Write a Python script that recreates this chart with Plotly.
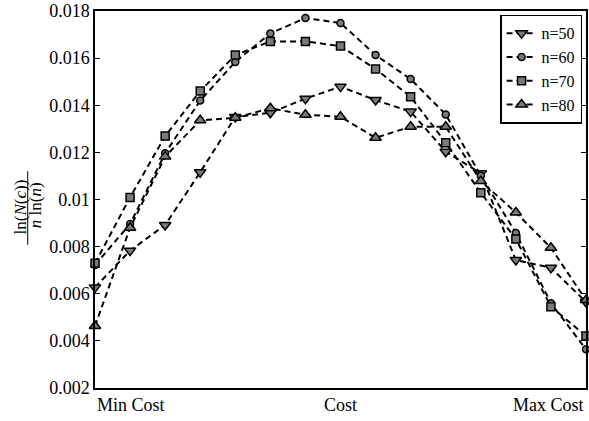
import plotly.graph_objects as go

# Cost steps from minimum to maximum cost
cost_steps = list(range(15))

n50 = [0.00627, 0.00783, 0.00892, 0.01116, 0.01350, 0.01368, 0.01428, 0.01479,
       0.01422, 0.01373, 0.01203, 0.01111, 0.00743, 0.00710, 0.00565]
n60 = [0.00722, 0.00896, 0.01196, 0.01420, 0.01584, 0.01705, 0.01770, 0.01749,
       0.01613, 0.01511, 0.01361, 0.01101, 0.00858, 0.00560, 0.00364]
n70 = [0.00729, 0.01009, 0.01269, 0.01460, 0.01613, 0.01671, 0.01671, 0.01651,
       0.01554, 0.01436, 0.01241, 0.01029, 0.00832, 0.00545, 0.00421]
n80 = [0.00463, 0.00880, 0.01182, 0.01336, 0.01347, 0.01387, 0.01360, 0.01351,
       0.01262, 0.01309, 0.01309, 0.01078, 0.00945, 0.00795, 0.00573]

series_names = ["n=50", "n=60", "n=70", "n=80"]
y_ticks = [0.002, 0.004, 0.006, 0.008, 0.010, 0.012, 0.014, 0.016, 0.018]
y_tick_text = ["0.002", "0.004", "0.006", "0.008", "0.01", "0.012", "0.014", "0.016", "0.018"]
x_labels = ["Min Cost", "Cost", "Max Cost"]

FONT = "Liberation Serif"
symbols = ["triangle-down", "circle", "square", "triangle-up"]
sizes = [10, 7, 8, 10]

fig = go.Figure()
for name, vals, sym, sz in zip(series_names, [n50, n60, n70, n80], symbols, sizes):
    fig.add_trace(go.Scatter(
        x=cost_steps, y=vals, name=name, mode="lines+markers",
        line=dict(color="black", width=2, dash="6px,4px"),
        marker=dict(symbol=sym, size=sz, color="#7a7a7a",
                    line=dict(color="black", width=1.5)),
        cliponaxis=False,
    ))

# Cost axis labels: left-aligned at min, centred in the middle, right-aligned at max
for xv, txt, anchor in [(0, x_labels[0], "left"), (7, x_labels[1], "center"), (14, x_labels[2], "right")]:
    fig.add_annotation(x=xv, y=-0.045, xref="x", yref="paper", text=txt,
                       showarrow=False, xanchor=anchor, yanchor="middle",
                       font=dict(family=FONT, size=18, color="black"))

# Y axis title drawn as a fraction
fig.add_annotation(x=-0.152, y=0.48, xref="paper", yref="paper",
                   text="ln(<i>N</i>(<i>c</i>))", textangle=-90, showarrow=False,
                   xanchor="center", yanchor="middle",
                   font=dict(family=FONT, size=17, color="black"))
fig.add_annotation(x=-0.122, y=0.485, xref="paper", yref="paper",
                   text="<i>n</i> ln(<i>n</i>)", textangle=-90, showarrow=False,
                   xanchor="center", yanchor="middle",
                   font=dict(family=FONT, size=17, color="black"))
fig.add_shape(type="line", xref="paper", yref="paper",
              x0=-0.137, x1=-0.137, y0=0.38, y1=0.575,
              line=dict(color="black", width=1))

fig.update_layout(
    width=589, height=421,
    margin=dict(l=95, r=1, t=11, b=33),
    paper_bgcolor="white", plot_bgcolor="white",
    font=dict(family=FONT, size=18, color="black"),
    showlegend=True,
    legend=dict(x=0.992, y=0.99, xanchor="right", yanchor="top",
                bgcolor="white", bordercolor="black", borderwidth=1.5,
                font=dict(family=FONT, size=16), tracegroupgap=0,
                itemwidth=30),
    xaxis=dict(range=[0, 14], showgrid=False, zeroline=False, showticklabels=False,
               ticks="", showline=True, linecolor="black", linewidth=1.5, mirror=True),
    yaxis=dict(range=[0.002, 0.018], tickvals=y_ticks, ticktext=y_tick_text,
               showgrid=False, zeroline=False, ticks="inside", ticklen=5,
               tickcolor="black", tickwidth=1, showline=True, linecolor="black",
               linewidth=1.5, mirror="ticks",
               tickfont=dict(family=FONT, size=18)),
)

fig.write_html("out.html")
